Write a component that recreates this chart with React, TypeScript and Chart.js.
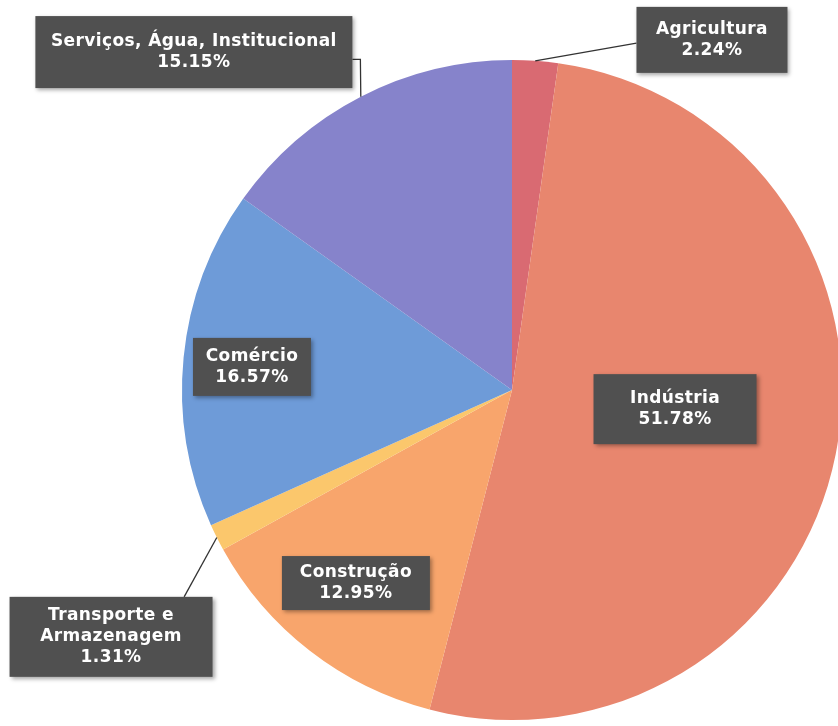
import React, { useEffect, useRef } from "react";
import { Chart, registerables } from "chart.js";

Chart.register(...registerables);

const categories = [
  "Agricultura",
  "Indústria",
  "Construção",
  "Transporte e Armazenagem",
  "Comércio",
  "Serviços, Água, Institucional",
];
const shares = [2.24, 51.78, 12.95, 1.31, 16.57, 15.15];
const labelLines = [
  ["Agricultura"],
  ["Indústria"],
  ["Construção"],
  ["Transporte e", "Armazenagem"],
  ["Comércio"],
  ["Serviços, Água, Institucional"],
];
const sliceColors = ["#d96a72", "#e8866e", "#f8a56c", "#fbc76c", "#6e9bd8", "#8683cb"];

// label box layout: centre relative to pie centre in units of radius, box size, leader style
const labelLayout = [
  { fx: 0.606, fy: -1.061, w: 151, h: 66, leader: { ax: 0, ay: 0.55 } },
  { fx: 0.494, fy: 0.058, w: 163, h: 70, leader: null },
  { fx: -0.473, fy: 0.585, w: 148, h: 54, leader: null },
  { fx: -1.215, fy: 0.748, w: 203, h: 80, leader: { ax: 0.86, ay: 0 } },
  { fx: -0.788, fy: -0.07, w: 118, h: 58, leader: null },
  { fx: -0.964, fy: -1.024, w: 317, h: 72, leader: { ax: 1, ay: 0.6, elbow: 8 } },
];

const labelPlugin = {
  id: "boxLabels",
  afterDraw(chart: any) {
    const ctx: CanvasRenderingContext2D = chart.ctx;
    const meta = chart.getDatasetMeta(0);
    meta.data.forEach((arc: any, i: number) => {
      const { x, y, startAngle, endAngle, outerRadius } = arc.getProps(
        ["x", "y", "startAngle", "endAngle", "outerRadius"],
        true
      );
      const lay = labelLayout[i];
      const cx = x + lay.fx * outerRadius;
      const cy = y + lay.fy * outerRadius;
      const bx = cx - lay.w / 2;
      const by = cy - lay.h / 2;
      ctx.save();
      // leader line
      if (lay.leader) {
        const mid = (startAngle + endAngle) / 2;
        const ex = x + Math.cos(mid) * outerRadius;
        const ey = y + Math.sin(mid) * outerRadius;
        const px = bx + lay.leader.ax * lay.w;
        const py = by + lay.leader.ay * lay.h;
        ctx.strokeStyle = "#333";
        ctx.lineWidth = 1.3;
        ctx.beginPath();
        ctx.moveTo(px, py);
        if ((lay.leader as any).elbow) {
          ctx.lineTo(px + (lay.leader as any).elbow, py);
        }
        ctx.lineTo(ex, ey);
        ctx.stroke();
      }
      // box
      ctx.shadowColor = "rgba(0,0,0,0.35)";
      ctx.shadowBlur = 4;
      ctx.shadowOffsetX = 2;
      ctx.shadowOffsetY = 2;
      ctx.fillStyle = "#505050";
      ctx.fillRect(bx, by, lay.w, lay.h);
      ctx.shadowColor = "transparent";
      // text
      const lines = [...labelLines[i], shares[i].toFixed(2) + "%"];
      ctx.fillStyle = "#ffffff";
      ctx.font = 'bold 17px "DejaVu Sans"';
      (ctx as any).letterSpacing = "0.4px";
      ctx.textAlign = "center";
      ctx.textBaseline = "middle";
      const lh = 21;
      const top = cy - ((lines.length - 1) * lh) / 2;
      lines.forEach((t, k) => ctx.fillText(t, cx, top + k * lh));
      ctx.restore();
    });
  },
};

export default function App() {
  const ref = useRef<HTMLCanvasElement>(null);
  useEffect(() => {
    document.body.style.margin = "0";
    const chart = new Chart(ref.current!, {
      type: "pie",
      data: {
        labels: categories,
        datasets: [
          {
            data: shares,
            backgroundColor: sliceColors,
            borderWidth: 0,
            hoverOffset: 0,
          },
        ],
      },
      options: {
        responsive: false,
        animation: false,
        devicePixelRatio: 1,
        layout: { padding: { left: 182, right: 18, top: 60, bottom: 6 } },
        plugins: { legend: { display: false }, tooltip: { enabled: false } },
      },
      plugins: [labelPlugin],
    });
    return () => chart.destroy();
  }, []);
  return (
    <div
      style={{
        position: "fixed",
        left: 0,
        top: 0,
        width: 838,
        height: 726,
        overflow: "hidden",
        background: "#fff",
      }}
    >
      <canvas ref={ref} width={860} height={726} style={{ width: 860, height: 726 }} />
    </div>
  );
}
